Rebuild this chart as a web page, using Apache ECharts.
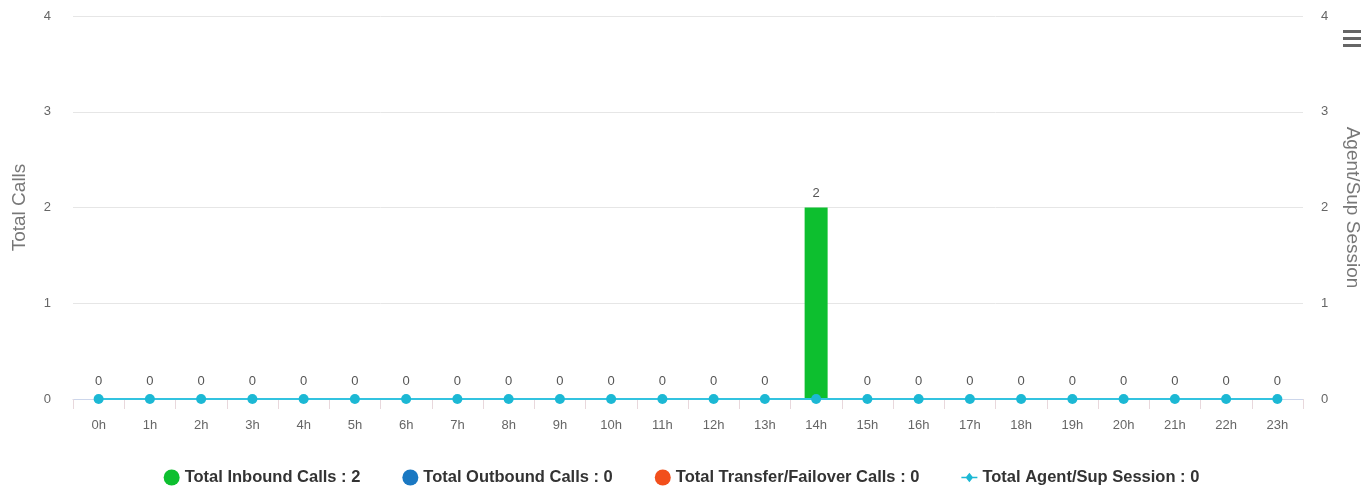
<!DOCTYPE html>
<html>
<head>
<meta charset="utf-8">
<script src="https://cdn.jsdelivr.net/npm/echarts@6/dist/echarts.min.js"></script>
<style>
html, body { margin: 0; padding: 0; background: #fff; }
#chart { width: 1363px; height: 487px; }
</style>
</head>
<body>
<div id="chart"></div>
<script>
var hours = ['0h','1h','2h','3h','4h','5h','6h','7h','8h','9h','10h','11h','12h','13h','14h','15h','16h','17h','18h','19h','20h','21h','22h','23h'];
var inbound  = [0,0,0,0,0,0,0,0,0,0,0,0,0,0,2,0,0,0,0,0,0,0,0,0];
var outbound = [0,0,0,0,0,0,0,0,0,0,0,0,0,0,0,0,0,0,0,0,0,0,0,0];
var transfer = [0,0,0,0,0,0,0,0,0,0,0,0,0,0,0,0,0,0,0,0,0,0,0,0];
var sessions = [0,0,0,0,0,0,0,0,0,0,0,0,0,0,0,0,0,0,0,0,0,0,0,0];

function sum(a) { return a.reduce(function (s, v) { return s + v; }, 0); }

var font = 'Liberation Sans';
var chart = echarts.init(document.getElementById('chart'));

var barLabel = {
    show: true, position: 'top', distance: 8, color: '#555', fontSize: 13, fontFamily: font,
    formatter: function (p) { return p.value > 0 ? p.value : ''; }
};

option = {
    animation: false,
    textStyle: { fontFamily: font },
    grid: { left: 73, right: 60, top: 16, bottom: 88, outerBoundsMode: 'none' },
    legend: {
        top: 469,
        padding: 0,
        left: 'center',
        itemGap: 42,
        itemWidth: 16,
        itemHeight: 17,
        textStyle: { fontFamily: font, fontSize: 16.5, fontWeight: 'bold', color: '#333' },
        data: [
            { name: 'Total Inbound Calls : ' + sum(inbound), icon: 'circle' },
            { name: 'Total Outbound Calls : ' + sum(outbound), icon: 'circle' },
            { name: 'Total Transfer/Failover Calls : ' + sum(transfer), icon: 'circle' },
            { name: 'Total Agent/Sup Session : ' + sum(sessions),
              icon: 'path://M0,7 L6,7 L10,2 L14,7 L20,7 L20,9 L14,9 L10,14 L6,9 L0,9 Z',
              itemStyle: { color: '#1cb8d4' } }
        ]
    },
    xAxis: {
        type: 'category',
        data: hours,
        axisLine: { show: true, lineStyle: { color: '#ccd6eb' } },
        axisTick: { show: true, length: 10, lineStyle: { color: '#e8d8dc' } },
        axisLabel: { color: '#666', fontSize: 13, margin: 20 }
    },
    yAxis: [
        {
            type: 'value', min: 0, max: 4, interval: 1,
            name: 'Total Calls', nameLocation: 'middle', nameGap: 44,
            nameTextStyle: { color: '#777', fontSize: 19 },
            axisLabel: { color: '#666', fontSize: 13, margin: 22 },
            splitLine: { lineStyle: { color: '#e6e6e6' } }
        },
        {
            type: 'value', min: 0, max: 4, interval: 1,
            name: 'Agent/Sup Session', nameLocation: 'middle', nameGap: 40, nameRotate: -90,
            nameTextStyle: { color: '#777', fontSize: 19 },
            axisLabel: { color: '#666', fontSize: 13, margin: 18 },
            splitLine: { show: false }
        }
    ],
    series: [
        {
            name: 'Total Inbound Calls : ' + sum(inbound), type: 'bar', stack: 'calls',
            data: inbound, barWidth: 23, itemStyle: { color: '#0dbf2f' }, label: barLabel
        },
        {
            name: 'Total Outbound Calls : ' + sum(outbound), type: 'bar', stack: 'calls',
            data: outbound, barWidth: 23, itemStyle: { color: '#1a78c2' }, label: barLabel
        },
        {
            name: 'Total Transfer/Failover Calls : ' + sum(transfer), type: 'bar', stack: 'calls',
            data: transfer, barWidth: 23, itemStyle: { color: '#f24f1c' }, label: barLabel
        },
        {
            name: 'Total Agent/Sup Session : ' + sum(sessions), type: 'line', yAxisIndex: 1,
            data: sessions, symbol: 'circle', symbolSize: 10, z: 5,
            lineStyle: { color: '#33c3e0', width: 2 },
            itemStyle: { color: '#1cb8d4' },
            label: {
                show: true, position: 'top', distance: 6, color: '#555', fontSize: 13,
                formatter: function (p) {
                    var i = p.dataIndex;
                    return inbound[i] + outbound[i] + transfer[i] > 0 ? '' : p.value;
                }
            }
        }
    ],
    graphic: [
        { type: 'rect', shape: { x: 1343, y: 30, width: 18, height: 3 }, style: { fill: '#666' } },
        { type: 'rect', shape: { x: 1343, y: 37, width: 18, height: 3 }, style: { fill: '#666' } },
        { type: 'rect', shape: { x: 1343, y: 44, width: 18, height: 3 }, style: { fill: '#666' } }
    ]
};

chart.setOption(option);
</script>
</body>
</html>
